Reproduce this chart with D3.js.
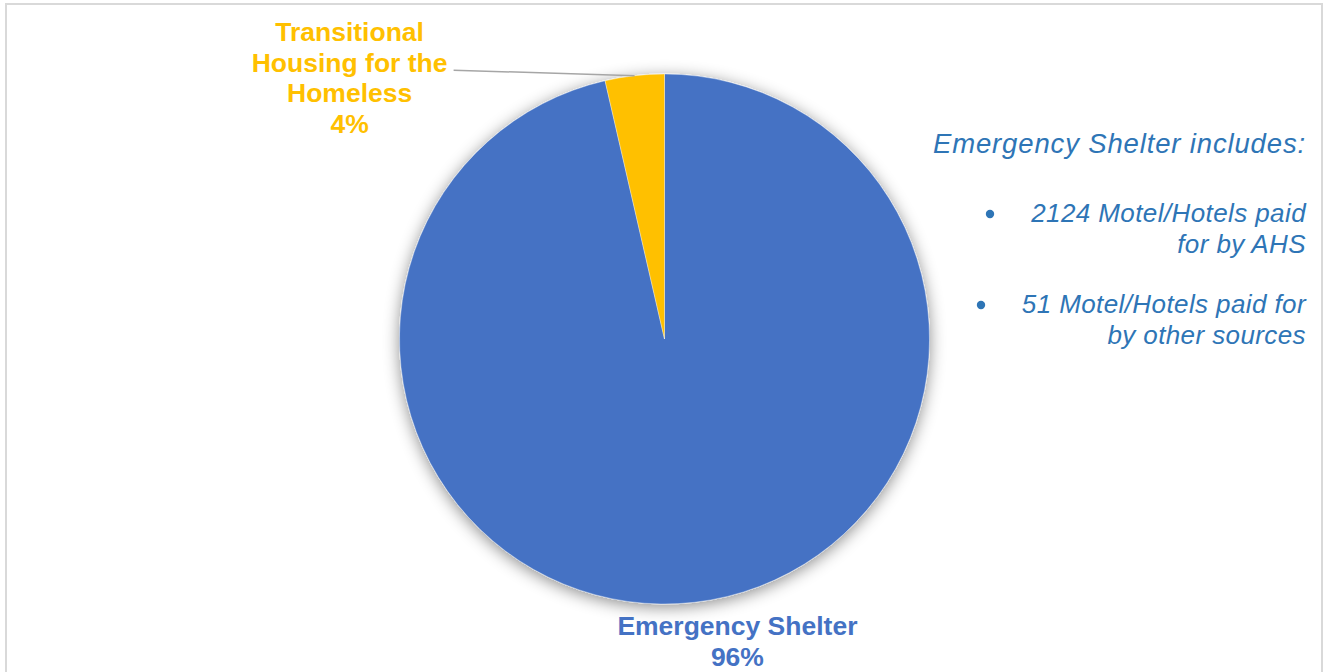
<!DOCTYPE html>
<html>
<head>
<meta charset="utf-8">
<script src="https://cdn.jsdelivr.net/npm/d3@7"></script>
<style>
  html, body { margin: 0; padding: 0; background: #fff; }
  svg { display: block; }
  text { font-family: "Liberation Sans", Arial, sans-serif; }
</style>
</head>
<body>
<svg id="chart" width="1323" height="672"></svg>
<script>
// Shelter type shares (percent of people housed)
const categories = ["Emergency Shelter", "Transitional Housing for the Homeless"];
const shares = [96.4, 3.6];
const labelLines = [["Emergency Shelter"], ["Transitional", "Housing for the", "Homeless"]];
const colors = ["#4472C4", "#FFC000"];

// Side note listing what counts as emergency shelter
const noteTitle = "Emergency Shelter includes:";
const noteItems = [
  ["2124 Motel/Hotels paid", "for by AHS"],
  ["51 Motel/Hotels paid for", "by other sources"]
];

const W = 1323, H = 672;
const svg = d3.select("#chart");

// chart frame
svg.append("rect")
  .attr("x", 6).attr("y", 4)
  .attr("width", W - 7).attr("height", H + 10)
  .attr("fill", "#fff")
  .attr("stroke", "#d9d9d9").attr("stroke-width", 2);

// soft shadow under the pie
const defs = svg.append("defs");
const f = defs.append("filter").attr("id", "pieShadow")
  .attr("x", "-20%").attr("y", "-20%").attr("width", "140%").attr("height", "140%");
f.append("feDropShadow")
  .attr("dx", 0).attr("dy", 3)
  .attr("stdDeviation", 8)
  .attr("flood-color", "#000").attr("flood-opacity", 0.45);

const cx = 664.5, cy = 339, r = 265;

const data = categories.map((c, i) => ({ name: c, value: shares[i], color: colors[i], lines: labelLines[i] }));
const total = d3.sum(shares);
const pct = d3.format(".0%");

const pie = d3.pie().sort(null).value(d => d.value);
const arcs = pie(data);
const arc = d3.arc().innerRadius(0).outerRadius(r);

const g = svg.append("g").attr("transform", `translate(${cx},${cy})`);
g.append("g").attr("filter", "url(#pieShadow)")
  .selectAll("path").data(arcs).join("path")
  .attr("d", arc)
  .attr("fill", d => d.data.color)
  .attr("stroke", "#ffffff").attr("stroke-width", 0.6).attr("stroke-opacity", 0.6);

// point on the rim at a slice's middle angle
function rimPoint(d, rr) {
  const a = (d.startAngle + d.endAngle) / 2;
  return [Math.sin(a) * rr, -Math.cos(a) * rr];
}

const lineH = 30.5;
const labelSize = 26.5;

// Emergency Shelter label (below the pie)
{
  const d = arcs[0];
  const [px, py] = rimPoint(d, r);
  const t = g.append("text")
    .attr("text-anchor", "middle")
    .attr("font-size", labelSize).attr("font-weight", "bold")
    .attr("fill", d.data.color);
  const lines = d.data.lines.concat([pct(d.data.value / total)]);
  lines.forEach((s, i) => {
    t.append("tspan").attr("x", px + 43).attr("y", py + 33 + i * lineH).text(s);
  });
}

// Transitional Housing label with leader line
{
  const d = arcs[1];
  const [px, py] = rimPoint(d, r);
  const lx = px - 181, ly = py - 5.5;
  g.append("line")
    .attr("x1", px).attr("y1", py)
    .attr("x2", lx).attr("y2", ly)
    .attr("stroke", "#a6a6a6").attr("stroke-width", 1.5);
  const t = g.append("text")
    .attr("text-anchor", "middle")
    .attr("font-size", labelSize).attr("font-weight", "bold")
    .attr("fill", d.data.color);
  const lines = d.data.lines.concat([pct(d.data.value / total)]);
  lines.forEach((s, i) => {
    t.append("tspan").attr("x", lx - 104).attr("y", ly + 1.5 + (i - 1) * lineH).text(s);
  });
}

// side note
const noteColor = "#2E75B6";
const noteRight = 1306;
const note = svg.append("g").attr("fill", noteColor).attr("font-style", "italic");
note.append("text")
  .attr("x", noteRight).attr("y", 153)
  .attr("text-anchor", "end")
  .attr("font-size", 27.5).attr("letter-spacing", 0.85)
  .text(noteTitle);

const itemTop = [222, 313];
const bulletX = [990, 981];
noteItems.forEach((lines, k) => {
  note.append("circle")
    .attr("cx", bulletX[k]).attr("cy", itemTop[k] - 8)
    .attr("r", 4.2);
  const t = note.append("text")
    .attr("text-anchor", "end")
    .attr("font-size", 26).attr("letter-spacing", 0.4);
  lines.forEach((s, i) => {
    t.append("tspan").attr("x", noteRight).attr("y", itemTop[k] + i * 30.5).text(s);
  });
});
</script>
</body>
</html>
